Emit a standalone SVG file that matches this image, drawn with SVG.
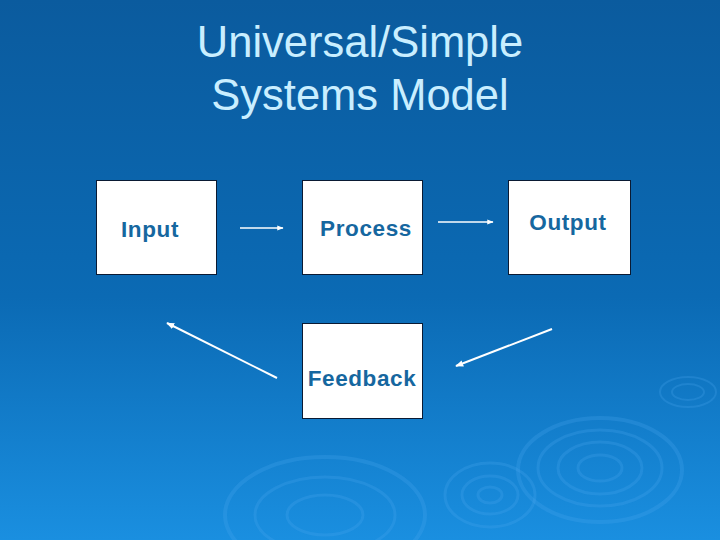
<svg xmlns="http://www.w3.org/2000/svg" width="720" height="540" viewBox="0 0 720 540">
<defs>
<linearGradient id="bg" x1="0" y1="0" x2="0" y2="1">
<stop offset="0" stop-color="#0b5b9e"/>
<stop offset="0.55" stop-color="#0b6ab4"/>
<stop offset="1" stop-color="#1a8fe0"/>
</linearGradient>
<marker id="ah" viewBox="0 0 10 10" refX="9" refY="5" markerWidth="4" markerHeight="4" orient="auto" markerUnits="strokeWidth">
<path d="M0,1 L10,5 L0,9 z" fill="#ffffff"/>
</marker>
</defs>
<style>
.box{fill:#ffffff;stroke:#0a1a33;stroke-width:1}
.lbl{font-family:"Liberation Sans",Arial,sans-serif;font-weight:bold;font-size:22.5px;letter-spacing:0.6px;fill:#16679f;text-anchor:middle}
.title{font-family:"Liberation Sans",Arial,sans-serif;font-size:43.5px;fill:#c9eeff;text-anchor:middle}
.conn{stroke:#ffffff;fill:none;marker-end:url(#ah)}
.rip{fill:none;stroke:#4aa8f0;stroke-opacity:0.25}
</style>
<rect width="720" height="540" fill="url(#bg)"/>
<g id="ripples">
<ellipse class="rip" cx="600" cy="470" rx="82" ry="52" stroke-width="4"/>
<ellipse class="rip" cx="600" cy="468" rx="62" ry="38" stroke-width="3"/>
<ellipse class="rip" cx="600" cy="468" rx="42" ry="26" stroke-width="3"/>
<ellipse class="rip" cx="600" cy="468" rx="22" ry="13" stroke-width="3"/>
<ellipse class="rip" cx="490" cy="495" rx="45" ry="32" stroke-width="3"/>
<ellipse class="rip" cx="490" cy="495" rx="28" ry="19" stroke-width="3"/>
<ellipse class="rip" cx="490" cy="495" rx="12" ry="8" stroke-width="3"/>
<ellipse class="rip" cx="325" cy="515" rx="100" ry="58" stroke-width="4"/>
<ellipse class="rip" cx="325" cy="515" rx="70" ry="38" stroke-width="3"/>
<ellipse class="rip" cx="325" cy="515" rx="38" ry="20" stroke-width="3"/>
<ellipse class="rip" cx="688" cy="392" rx="28" ry="15" stroke-width="2"/>
<ellipse class="rip" cx="688" cy="392" rx="16" ry="8" stroke-width="2"/>
</g>
<g id="title">
<text class="title" x="360" y="57">Universal/Simple</text>
<text class="title" x="360" y="110">Systems Model</text>
</g>
<g id="input">
<rect class="box" x="96.5" y="180.5" width="120" height="94"/>
<text class="lbl" x="150" y="237">Input</text>
</g>
<g id="process">
<rect class="box" x="302.5" y="180.5" width="120" height="94"/>
<text class="lbl" x="366" y="236">Process</text>
</g>
<g id="output">
<rect class="box" x="508.5" y="180.5" width="122" height="94"/>
<text class="lbl" x="568" y="230">Output</text>
</g>
<g id="feedback">
<rect class="box" x="302.5" y="323.5" width="120" height="95"/>
<text class="lbl" x="362" y="386">Feedback</text>
</g>
<g id="connectors">
<line class="conn" x1="240" y1="228" x2="283" y2="228" stroke-width="1.6"/>
<line class="conn" x1="438" y1="222" x2="493" y2="222" stroke-width="1.6"/>
<line class="conn" x1="552" y1="329" x2="456" y2="366" stroke-width="2"/>
<line class="conn" x1="277" y1="378" x2="167" y2="323" stroke-width="2"/>
</g>
</svg>
